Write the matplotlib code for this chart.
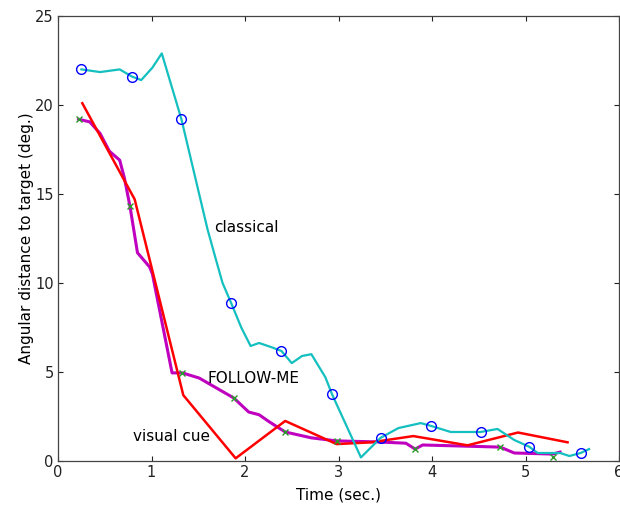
import matplotlib
matplotlib.use("Agg")
import matplotlib.pyplot as plt

# classical (cyan line + blue circle samples)
classical_t = [0.25, 0.45, 0.66, 0.79, 0.89, 1.01, 1.11, 1.32, 1.60, 1.69, 1.76,
               1.85, 1.96, 2.06, 2.15, 2.28, 2.39, 2.50, 2.61, 2.71, 2.86, 2.93,
               3.24, 3.45, 3.64, 3.88, 3.99, 4.20, 4.52, 4.70, 4.88, 5.04, 5.13,
               5.37, 5.47, 5.59, 5.68]
classical_v = [22.0, 21.85, 22.0, 21.6, 21.4, 22.1, 22.9, 19.2, 13.0, 11.3, 10.0,
               8.9, 7.5, 6.46, 6.63, 6.4, 6.18, 5.5, 5.9, 6.0, 4.7, 3.76,
               0.2, 1.3, 1.85, 2.13, 1.97, 1.63, 1.63, 1.8, 1.18, 0.8, 0.45,
               0.45, 0.28, 0.45, 0.67]
circle_t = [0.25, 0.79, 1.32, 1.85, 2.39, 2.93, 3.45, 3.99, 4.52, 5.04, 5.59]
circle_v = [22.0, 21.6, 19.2, 8.9, 6.18, 3.76, 1.3, 1.97, 1.63, 0.8, 0.45]

# visual cue (red)
cue_t = [0.26, 0.82, 1.34, 1.90, 2.43, 2.98, 3.35, 3.80, 4.38, 4.92, 5.45]
cue_v = [20.1, 14.7, 3.7, 0.15, 2.25, 0.95, 1.05, 1.4, 0.88, 1.6, 1.05]

# FOLLOW-ME (magenta line + green x samples)
follow_t = [0.22, 0.34, 0.45, 0.55, 0.66, 0.71, 0.77, 0.85, 0.98, 1.01, 1.22,
            1.33, 1.51, 1.88, 2.04, 2.15, 2.26, 2.43, 2.71, 2.98, 3.43, 3.72,
            3.82, 3.90, 4.60, 4.73, 4.88, 5.29, 5.37]
follow_v = [19.2, 19.05, 18.4, 17.4, 16.9, 15.9, 14.3, 11.7, 10.9, 10.5, 4.95,
            4.95, 4.66, 3.54, 2.75, 2.6, 2.2, 1.63, 1.3, 1.13, 1.07, 1.0,
            0.67, 0.9, 0.8, 0.78, 0.45, 0.39, 0.5]
cross_t = [0.22, 0.77, 1.33, 1.88, 2.43, 2.98, 3.82, 4.73, 5.29]
cross_v = [19.2, 14.3, 4.95, 3.54, 1.63, 1.13, 0.67, 0.78, 0.25]

xticks = [0, 1, 2, 3, 4, 5, 6]
yticks = [0, 5, 10, 15, 20, 25]

plt.rcParams["font.family"] = ["DejaVu Sans"]

fig = plt.figure(figsize=(6.2, 5.07), dpi=100)
ax = fig.add_axes([58 / 620, 46 / 507, 561 / 620, 445 / 507])

ax.plot(follow_t, follow_v, color="#bf00bf", lw=2.2)
ax.plot(cue_t, cue_v, color="#ff0000", lw=1.8)
ax.plot(classical_t, classical_v, color="#14bfbf", lw=1.6)
ax.plot(circle_t, circle_v, "o", mfc="none", mec="#0000ff", ms=7, mew=1.0)
ax.plot(cross_t, cross_v, "x", color="#2a9a2a", ms=4, mew=1.0)

ax.text(1.67, 13.1, "classical", fontsize=11, va="center")
ax.text(1.60, 4.66, "FOLLOW-ME", fontsize=11, va="center")
ax.text(0.80, 1.35, "visual cue", fontsize=11, va="center")

ax.set_xlim(0, 6)
ax.set_ylim(0, 25)
ax.set_xticks(xticks)
ax.set_yticks(yticks)
ax.tick_params(direction="in", top=True, right=True, length=3.5, width=0.8,
               labelsize=10.5, colors="#222222", pad=3)
for s in ax.spines.values():
    s.set_color("#444444")
    s.set_linewidth(0.9)

ax.set_xlabel("Time (sec.)", fontsize=11, labelpad=5)
ax.set_ylabel("Angular distance to target (deg.)", fontsize=11, labelpad=1)

fig.savefig("out.png", dpi=100)
